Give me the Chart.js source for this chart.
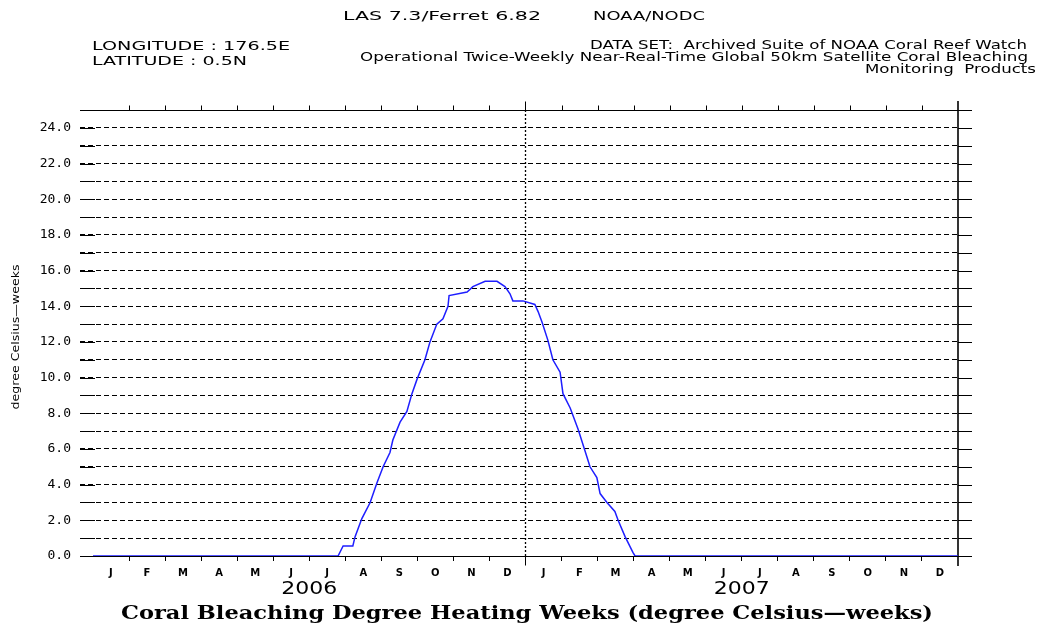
<!DOCTYPE html>
<html>
<head>
<meta charset="utf-8">
<script src="https://cdn.jsdelivr.net/npm/chart.js@4.4.1/dist/chart.umd.min.js"></script>
<style>
  body { margin: 0; background: #fff; }
  #wrap { width: 1038px; height: 629px; }
</style>
</head>
<body>
<div id="wrap"><canvas id="mycanvas" width="1038" height="629"></canvas></div>
<script>
// months since 1 Jan 2006 and degree heating weeks
var dhwMonth = [0, 6.80, 6.94, 7.21, 7.27, 7.46, 7.69, 7.88, 8.05, 8.24, 8.32, 8.52, 8.71, 8.85, 8.99,
  9.21, 9.35, 9.54, 9.71, 9.85, 9.88, 10.38, 10.54, 10.88, 11.21, 11.43, 11.57, 11.65, 11.93,
  12.26, 12.35, 12.46, 12.62, 12.76, 12.96, 13.04, 13.24, 13.46, 13.65, 13.79, 13.98, 14.07,
  14.26, 14.48, 14.57, 14.76, 14.98, 15.04, 24];
var dhwValue = [0, 0, 0.56, 0.56, 1.07, 2.1, 3.0, 4.1, 5.0, 5.8, 6.5, 7.5, 8.1, 9.1, 9.9,
  11.0, 12.0, 13.0, 13.3, 14.0, 14.6, 14.8, 15.1, 15.4, 15.4, 15.1, 14.7, 14.3, 14.3,
  14.1, 13.7, 13.1, 12.1, 11.0, 10.3, 9.1, 8.3, 7.1, 5.9, 5.0, 4.4, 3.5, 3.0,
  2.5, 2.0, 1.1, 0.2, 0, 0];
var monthLabels = ['J', 'F', 'M', 'A', 'M', 'J', 'J', 'A', 'S', 'O', 'N', 'D'];
var yearLabels = ['2006', '2007'];
var yMax = 25;

var puntos = [];
for (var i = 0; i < dhwMonth.length; i++) {
  puntos.push({ x: dhwMonth[i], y: dhwValue[i] });
}

// texto estirado al ancho del original (fuente Hershey de Ferret)
function txt(ctx, s, x, y, font, w, align) {
  ctx.save();
  ctx.font = font;
  ctx.fillStyle = '#000';
  ctx.textBaseline = 'middle';
  var mw = ctx.measureText(s).width;
  var k = w ? w / mw : 1;
  var x0 = x;
  if (align === 'center') x0 = x - mw * k / 2;
  if (align === 'right') x0 = x - mw * k;
  ctx.translate(x0, y);
  ctx.scale(k, 1);
  ctx.textAlign = 'left';
  ctx.fillText(s, 0, 0);
  ctx.restore();
}

const marco = {
  id: 'marco',
  beforeDatasetsDraw: function (chart) {
    var ctx = chart.ctx, a = chart.chartArea;
    var xs = chart.scales.x, ys = chart.scales.y;
    var right = a.right + 14;
    ctx.save();
    ctx.strokeStyle = '#000';
    ctx.lineWidth = 1;
    // stubs izquierda / derecha
    for (var v = 0; v <= yMax; v++) {
      var py = Math.round(ys.getPixelForValue(v)) + 0.5;
      ctx.beginPath();
      if (v > 0 && v < yMax) { ctx.moveTo(a.left, py); ctx.lineTo(a.left + 15, py); }
      ctx.moveTo(a.right, py); ctx.lineTo(right, py);
      ctx.stroke();
    }
    // ejes arriba y abajo
    var top = Math.round(a.top) + 0.5, bot = Math.round(a.bottom) + 0.5;
    ctx.beginPath();
    ctx.moveTo(a.left, top); ctx.lineTo(right, top);
    ctx.moveTo(a.left, bot); ctx.lineTo(right, bot);
    for (var m = 1; m < 24; m++) {
      var px = Math.round(xs.getPixelForValue(m)) + 0.5;
      ctx.moveTo(px, top); ctx.lineTo(px, top - (m === 12 ? 9 : 5));
    }
    var pyr = Math.round(xs.getPixelForValue(12)) + 0.5;
    ctx.moveTo(pyr, bot); ctx.lineTo(pyr, bot + 9);
    ctx.stroke();
    // eje derecho
    ctx.lineWidth = 1.6;
    var pr = Math.round(xs.getPixelForValue(24));
    ctx.beginPath();
    ctx.moveTo(pr, a.top - 9); ctx.lineTo(pr, a.bottom + 10);
    ctx.stroke();
    // linea punteada de cambio de año
    ctx.lineWidth = 1.3;
    ctx.setLineDash([2, 2]);
    ctx.beginPath();
    ctx.moveTo(pyr, a.top); ctx.lineTo(pyr, a.bottom);
    ctx.stroke();
    ctx.restore();
  },
  afterDraw: function (chart) {
    var ctx = chart.ctx, xs = chart.scales.x;
    var f = '13px "DejaVu Sans"';
    txt(ctx, 'LAS 7.3/Ferret 6.82', 343, 17, f, 198, 'left');
    txt(ctx, 'NOAA/NODC', 593, 17, f, 112, 'left');
    txt(ctx, 'LONGITUDE : 176.5E', 92, 47, f, 198, 'left');
    txt(ctx, 'LATITUDE : 0.5N', 92, 62, f, 155, 'left');
    txt(ctx, 'DATA SET:  Archived Suite of NOAA Coral Reef Watch', 1027, 46, f, 437, 'right');
    txt(ctx, 'Operational Twice-Weekly Near-Real-Time Global 50km Satellite Coral Bleaching', 1028, 58, f, 668, 'right');
    txt(ctx, 'Monitoring  Products', 1036, 70, f, 171, 'right');
    for (var k = 0; k < yearLabels.length; k++) {
      txt(ctx, yearLabels[k], xs.getPixelForValue(6 + 12 * k), 590, '17px "DejaVu Sans"', 56, 'center');
    }
    txt(ctx, 'Coral Bleaching Degree Heating Weeks (degree Celsius\u2014weeks)', 527, 614,
      'bold 19px "DejaVu Serif"', 812, 'center');
    ctx.save();
    ctx.translate(16, 337);
    ctx.rotate(-Math.PI / 2);
    txt(ctx, 'degree Celsius\u2014weeks', 0, 0, '11px "DejaVu Sans"', 145, 'center');
    ctx.restore();
  }
};

const config = {
  type: 'line',
  data: {
    datasets: [{
      label: 'DHW',
      data: puntos,
      borderColor: 'rgb(30, 30, 255)',
      borderWidth: 1.5,
      pointRadius: 0,
      tension: 0,
      fill: false
    }]
  },
  plugins: [marco],
  options: {
    responsive: false,
    animation: false,
    layout: { padding: { top: 110, right: 80, left: 0, bottom: 0 } },
    plugins: {
      legend: { display: false },
      tooltip: { enabled: false }
    },
    scales: {
      x: {
        type: 'linear',
        min: -0.36,
        max: 24,
        afterBuildTicks: function (scale) {
          var t = [];
          for (var m = 0; m < 24; m++) t.push({ value: m });
          scale.ticks = t;
        },
        afterFit: function (scale) { scale.height = 73; },
        border: { display: false },
        grid: {
          drawOnChartArea: false,
          drawTicks: true,
          tickLength: 5,
          color: function (c) {
            return (c.tick && (c.tick.value === 0 || c.tick.value === 12)) ? 'rgba(0,0,0,0)' : '#000';
          }
        },
        ticks: {
          autoSkip: false,
          maxRotation: 0,
          labelOffset: 18,
          padding: 6,
          color: '#000',
          font: { family: 'DejaVu Sans', size: 10, weight: 'bold' },
          callback: function (v, idx) { return monthLabels[idx % 12]; }
        }
      },
      y: {
        min: 0,
        max: yMax,
        afterFit: function (scale) { scale.width = 80; },
        border: { display: false, dash: [5, 3] },
        grid: {
          drawTicks: false,
          lineWidth: 1,
          color: function (c) {
            return (c.tick && (c.tick.value === 0 || c.tick.value === yMax)) ? 'rgba(0,0,0,0)' : '#000';
          }
        },
        ticks: {
          stepSize: 1,
          autoSkip: false,
          padding: 9,
          color: '#000',
          font: { family: 'DejaVu Sans Mono', size: 13 },
          callback: function (v) { return v % 2 === 0 && v < yMax ? v.toFixed(1) : ''; }
        }
      }
    }
  }
};

var myChart = new Chart(document.getElementById('mycanvas'), config);
</script>
</body>
</html>
